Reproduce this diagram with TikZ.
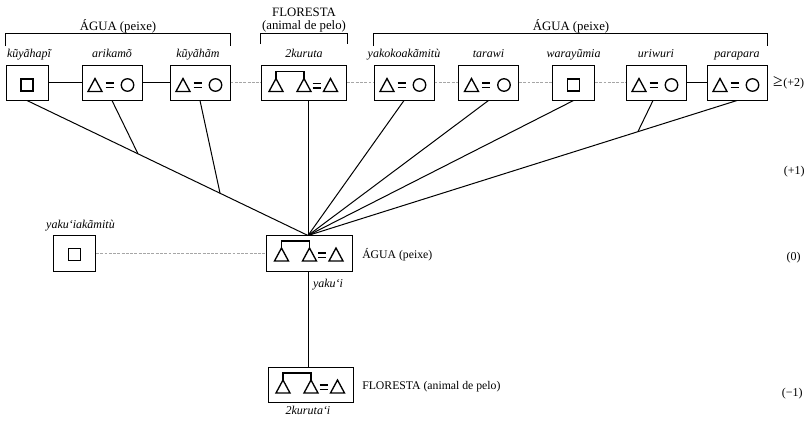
\documentclass[tikz,border=0pt]{standalone}
\usepackage{fontspec}
\setmainfont{Liberation Serif}
\usetikzlibrary{calc}
\begin{document}
\begin{tikzpicture}[x=0.75pt,y=-0.75pt,
  box/.style={draw,line width=0.75pt,inner sep=0pt,minimum height=26.25pt},
  wbox/.style={box,minimum width=45pt},
  sbox/.style={box,minimum width=31.5pt},
  tbox/.style={box,minimum width=64pt,minimum height=27pt},
  kin/.style={line width=0.75pt},
  dlink/.style={draw=gray!70,line width=0.8pt,dash pattern=on 2.2pt off 1pt},
  sym/.style={line width=1pt,line join=miter},
  brk/.style={line width=0.75pt},
  nm/.style={font=\fontsize{9}{11}\selectfont\itshape,inner sep=0pt,anchor=base},
  lab/.style={font=\fontsize{9.6}{11.5}\selectfont,inner sep=0pt,anchor=base},
  slab/.style={font=\fontsize{8.8}{10.5}\selectfont,inner sep=0pt,anchor=base west},
  lvl/.style={font=\fontsize{9}{11}\selectfont,inner sep=0pt},
  pics/deq/.style={code={
    \draw[sym] (-17,-4)--(-24,9)--(-10,9)--cycle;
    \draw[sym] (-6.5,0.5)--(1.5,0.5) (-6.5,5)--(1.5,5);
    \draw[sym] (15.5,2.5) circle[radius=4.7pt];
  }},
  pics/sqr/.style={code={\draw[sym] (-6,-3.5) rectangle (6,8.5);}},
  pics/sib/.style={code={
    \draw[sym] (-28,-5.5)--(-35,7.5)--(-21,7.5)--cycle;
    \draw[sym] (0,-5.5)--(-7,7.5)--(7,7.5)--cycle;
    \draw[sym] (-28,-5.5)--(-28,-12.5)--(0,-12.5)--(0,-5.5);
    \draw[sym] (8.5,-0.5)--(16.5,-0.5) (8.5,4)--(16.5,4);
    \draw[sym] (26.5,-5.5)--(19.5,7.5)--(33.5,7.5)--cycle;
  }},
]
\useasboundingbox (0,0) rectangle (808,422);

% top row
\node[sbox] (kuyahapi) at (27,82.5) {};
\node[wbox] (arikamo) at (112,82.5) {};
\node[wbox] (kuyaham) at (200,82.5) {};
\node[tbox,minimum height=26.25pt] (kuruta) at (304,82.5) {};
\node[wbox] (yakoko) at (404,82.5) {};
\node[wbox] (tarawi) at (488.5,82.5) {};
\node[sbox] (waray) at (573.5,82.5) {};
\node[wbox] (uriwuri) at (656,82.5) {};
\node[wbox] (parapara) at (737,82.5) {};

\pic at (kuyahapi.center) {sqr};
\pic at (arikamo.center) {deq};
\pic at (kuyaham.center) {deq};
\pic at ($(kuruta.center)+(0,1.5)$) {sib};
\pic at (yakoko.center) {deq};
\pic at (tarawi.center) {deq};
\pic at (waray.center) {sqr};
\pic at (uriwuri.center) {deq};
\pic at (parapara.center) {deq};

% names
\node[nm] (nkuyahapi) at ($(kuyahapi.north)+(2,-7)$) {kũyãhapĩ};
\node[nm] (narikamo) at ($(arikamo.north)+(0,-7)$) {arikamõ};
\node[nm] (nkuyaham) at ($(kuyaham.north)+(-2,-7)$) {kũyãhãm};
\node[nm] (nkuruta) at ($(kuruta.north)+(0,-7)$) {2kuruta};
\node[nm] (nyakoko) at ($(yakoko.north)+(0,-7)$) {yakokoakãmitù};
\node[nm] (ntarawi) at ($(tarawi.north)+(0,-7)$) {tarawi};
\node[nm] (nwaray) at ($(waray.north)+(0,-7)$) {warayũmia};
\node[nm] (nuriwuri) at ($(uriwuri.north)+(0,-7)$) {uriwuri};
\node[nm] (nparapara) at ($(parapara.north)+(0,-7)$) {parapara};

% brackets
\draw[brk] (kuyahapi.west |- 0,46) -- (kuyahapi.west |- 0,33) -- (kuyaham.east |- 0,33) -- (kuyaham.east |- 0,46);
\draw[brk] (kuruta.west |- 0,44) -- (kuruta.west |- 0,33) -- (kuruta.east |- 0,33) -- (kuruta.east |- 0,44);
\draw[brk] (yakoko.west |- 0,46) -- (yakoko.west |- 0,33) -- (parapara.east |- 0,33) -- (parapara.east |- 0,46);
\node[lab] (agua1) at (118,30) {ÁGUA (peixe)};
\node[lab] (flor1) at (304,16.5) {FLORESTA};
\node[lab] (flor2) at (304,29.5) {(animal de pelo)};
\node[lab] (agua2) at (571,30) {ÁGUA (peixe)};

% horizontal ties
\draw[kin] (kuyahapi.east) -- (arikamo.west);
\draw[kin] (arikamo.east) -- (kuyaham.west);
\draw[dlink] (kuyaham.east) -- (kuruta.west);
\draw[dlink] (kuruta.east) -- (yakoko.west);
\draw[dlink] (yakoko.east) -- (tarawi.west);
\draw[dlink] (tarawi.east) -- (waray.west);
\draw[dlink] (waray.east) -- (uriwuri.west);
\draw[kin] (uriwuri.east) -- (parapara.west);

% level +2
\node[inner sep=0pt,font=\fontsize{13}{13}\selectfont] (ge) at (778,82) {≥};
\node[lvl,anchor=west] (l2) at (783,84) {(+2)};

% middle row
\node[tbox] (yakui) at (309.5,253.5) {};
\pic at (yakui.center) {sib};
\node[sbox,minimum height=27pt] (yakuiak) at (74.5,253.5) {};
\pic at ($(yakuiak.center)+(0,-1.5)$) {sqr};
\node[nm] (nyakuiak) at ($(yakuiak.north)+(6,-7)$) {yaku‘iakãmitù};
\draw[dlink] (yakuiak.east) -- (yakui.west);
\node[slab] (agua3) at (362,258.5) {ÁGUA (peixe)};
\node[nm] (nyakui) at (328,287) {yaku‘i};

% bottom row
\node[tbox,minimum height=26.25pt] (kurutai) at (311,384.5) {};
\pic at ($(kurutai.center)+(0,1)$) {sib};
\node[slab] (flor3) at (362,389) {FLORESTA (animal de pelo)};
\node[nm] (nkurutai) at (308,414) {2kuruta‘i};

% tree
\coordinate (apex) at (308,235.5);
\coordinate (j1) at ($(kuyahapi.south)!0.395!(apex)$);
\coordinate (j2) at ($(kuyahapi.south)!0.687!(apex)$);
\coordinate (j3) at ($(parapara.south)!0.231!(apex)$);
\draw[kin] (kuyahapi.south) -- (apex);
\draw[kin] (arikamo.south) -- (j1);
\draw[kin] (kuyaham.south) -- (j2);
\draw[kin] (kuruta.south -| apex) -- (apex);
\draw[kin] (yakoko.south) -- (apex);
\draw[kin] (tarawi.south) -- (apex);
\draw[kin] (waray.south) -- (apex);
\draw[kin] (parapara.south) -- (apex);
\draw[kin] ($(uriwuri.south)+(-3,0)$) -- (j3);
\draw[kin] (yakui.south -| apex) -- (kurutai.north -| apex);

% levels
\node[lvl,anchor=east] (l1) at (805,172) {(+1)};
\node[lvl,anchor=east] (l0) at (801,258) {(0)};
\node[lvl,anchor=east] (lm1) at (803,394) {(−1)};
\end{tikzpicture}
\end{document}
